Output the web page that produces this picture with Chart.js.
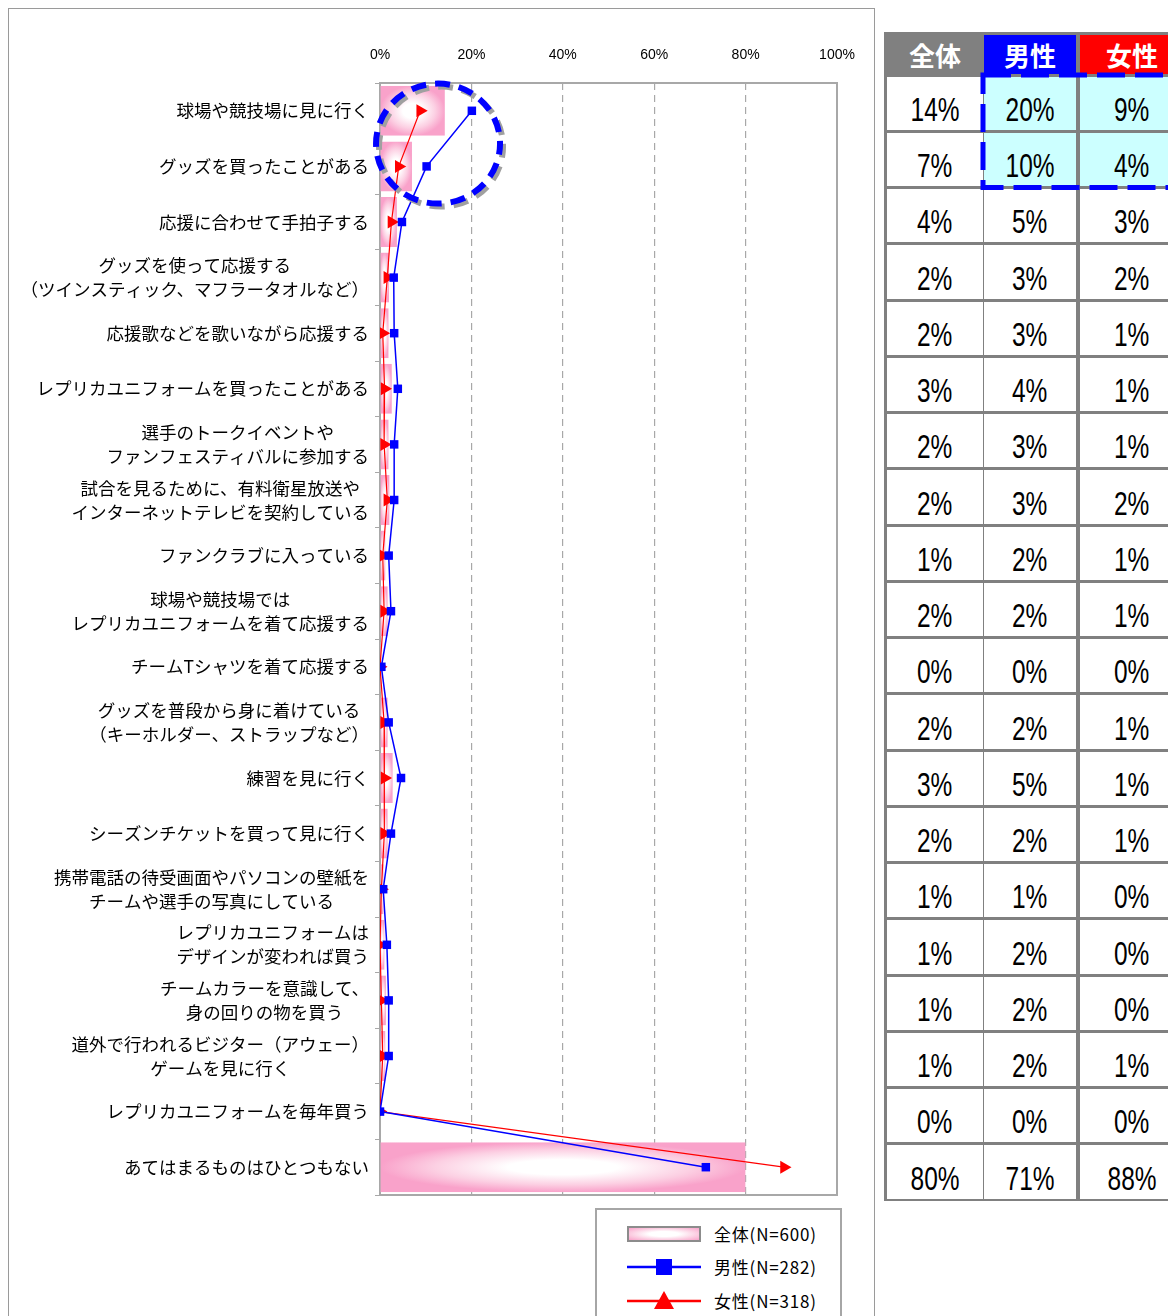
<!DOCTYPE html>
<html lang="ja">
<head>
<meta charset="utf-8">
<script src="https://cdn.jsdelivr.net/npm/chart.js@4.4.1/dist/chart.umd.min.js"></script>
<style>
  html, body { margin: 0; padding: 0; background: #fff; width: 1168px; height: 1316px; overflow: hidden; }
  #frame { position: absolute; left: 8px; top: 8px; width: 867px; height: 1330px; border: 1px solid #9a9a9a; box-sizing: border-box; }
  #chartWrap { position: absolute; left: 0; top: 0; width: 876px; height: 1316px; }
  #legend { position: absolute; left: 595px; top: 1208px; width: 247px; height: 130px; border: 2px solid #a6a6a6; box-sizing: border-box; background: #fff; font-family: "Noto Sans CJK JP", sans-serif; font-size: 17px; letter-spacing: 0.8px; color: #000; }
  .litem { position: absolute; left: 0; width: 240px; height: 30px; }
  .lsym { position: absolute; left: 29px; top: 0; width: 76px; height: 30px; }
  .ltext { position: absolute; left: 117px; top: 0; line-height: 30px; white-space: nowrap; }
  #table { position: absolute; left: 884px; top: 32px; width: 300px; height: 1169px; background: #808080; }
  .cell { position: absolute; display: flex; align-items: center; justify-content: center; box-sizing: border-box; font-family: "Liberation Sans", Arial, sans-serif; font-size: 34px; color: #000; background: #fff; }
  .cell span { display: inline-block; transform: scaleX(0.72); transform-origin: center; }
  .hcell { position: absolute; display: flex; align-items: center; justify-content: center; font-family: "Noto Sans CJK JP", sans-serif; font-weight: bold; font-size: 26px; color: #fff; }
  #hl { position: absolute; left: 0; top: 0; width: 1168px; height: 1316px; pointer-events: none; }
</style>
</head>
<body>
<div id="frame"></div>
<div id="chartWrap"><canvas id="c" width="876" height="1316"></canvas></div>
<div id="legend"></div>
<div id="table"></div>
<svg id="hl" width="1168" height="1316"></svg>
<script>
// ---- data ----
const categories = [
  "球場や競技場に見に行く",
  "グッズを買ったことがある",
  "応援に合わせて手拍子する",
  ["グッズを使って応援する", "（ツインスティック、マフラータオルなど）"],
  "応援歌などを歌いながら応援する",
  "レプリカユニフォームを買ったことがある",
  ["選手のトークイベントや", "ファンフェスティバルに参加する"],
  ["試合を見るために、有料衛星放送や", "インターネットテレビを契約している"],
  "ファンクラブに入っている",
  ["球場や競技場では", "レプリカユニフォームを着て応援する"],
  "チームTシャツを着て応援する",
  ["グッズを普段から身に着けている", "（キーホルダー、ストラップなど）"],
  "練習を見に行く",
  "シーズンチケットを買って見に行く",
  ["携帯電話の待受画面やパソコンの壁紙を", "チームや選手の写真にしている"],
  ["レプリカユニフォームは", "デザインが変われば買う"],
  ["チームカラーを意識して、", "身の回りの物を買う"],
  ["道外で行われるビジター（アウェー）", "ゲームを見に行く"],
  "レプリカユニフォームを毎年買う",
  "あてはまるものはひとつもない"
];
const overallValues = [14.2, 7.0, 3.7, 2.0, 1.9, 2.6, 1.9, 2.1, 1.2, 1.7, 0.3, 1.7, 2.8, 1.7, 0.8, 1.0, 1.3, 1.2, 0.0, 80.0];
const maleValues    = [20.1, 10.2, 4.8, 3.0, 3.1, 3.9, 3.1, 3.1, 1.9, 2.4, 0.3, 1.9, 4.6, 2.4, 0.7, 1.5, 1.9, 1.9, 0.0, 71.3];
const femaleValues  = [8.8, 4.1, 2.5, 1.6, 0.6, 1.0, 0.9, 1.6, 0.6, 0.9, 0.0, 0.9, 1.0, 0.9, 0.3, 0.0, 0.3, 0.6, 0.0, 88.4];
const seriesLabels = ["全体(N=600)", "男性(N=282)", "女性(N=318)"];
const xTicks = [0, 20, 40, 60, 80, 100];
const tableHeaders = ["全体", "男性", "女性"];
const tableOverall = [14, 7, 4, 2, 2, 3, 2, 2, 1, 2, 0, 2, 3, 2, 1, 1, 1, 1, 0, 80];
const tableMale    = [20, 10, 5, 3, 3, 4, 3, 3, 2, 2, 0, 2, 5, 2, 1, 2, 2, 2, 0, 71];
const tableFemale  = [9, 4, 3, 2, 1, 1, 1, 2, 1, 1, 0, 1, 1, 1, 0, 0, 0, 1, 0, 88];
const highlightRows = [0, 1];

// ---- styling ----
const PINK = '#f9a2ca';
const GRID = '#a8a8a8';

function paintGradientRect(g, x, y, w, h) {
  if (w <= 0 || h <= 0) return;
  g.save();
  g.beginPath();
  g.rect(x, y, w, h);
  g.clip();
  g.translate(x + w / 2, y + h / 2);
  g.scale(w / 2, h / 2);
  const rg = g.createRadialGradient(0, 0, 0, 0, 0, 1);
  rg.addColorStop(0, '#ffffff');
  rg.addColorStop(0.3, '#ffffff');
  rg.addColorStop(0.7, '#fcd0e3');
  rg.addColorStop(1, PINK);
  g.fillStyle = rg;
  g.fillRect(-1.5, -1.5, 3, 3);
  g.restore();
}

let patternCache = null;
function barPattern(ctx) {
  const chart = ctx.chart;
  const xs = chart.scales.x, ys = chart.scales.y;
  if (!xs || !ys || !chart.chartArea) return PINK;
  const key = chart.width + 'x' + chart.height + ':' + chart.chartArea.left + ',' + chart.chartArea.top + ',' + chart.chartArea.right + ',' + chart.chartArea.bottom;
  if (patternCache && patternCache.key === key) return patternCache.pattern;
  const off = document.createElement('canvas');
  off.width = chart.width; off.height = chart.height;
  const g = off.getContext('2d');
  const ds = chart.data.datasets.find(d => d.type === 'bar');
  const step = Math.abs(ys.getPixelForValue(1) - ys.getPixelForValue(0));
  const thick = step * ds.barPercentage * ds.categoryPercentage;
  ds.data.forEach((v, i) => {
    const x0 = xs.getPixelForValue(0), x1 = xs.getPixelForValue(v);
    const yc = ys.getPixelForValue(i);
    paintGradientRect(g, Math.min(x0, x1), yc - thick / 2, Math.abs(x1 - x0), thick);
  });
  const pattern = chart.ctx.createPattern(off, 'no-repeat');
  patternCache = { key, pattern };
  return pattern;
}

// y labels drawn with centered lines, right edge fixed
const yLabelPlugin = {
  id: 'yLabels',
  afterDraw(chart) {
    const ys = chart.scales.y;
    const c = chart.ctx;
    c.save();
    c.font = '17.5px "Noto Sans CJK JP", sans-serif';
    c.fillStyle = '#000';
    c.textAlign = 'center';
    c.textBaseline = 'middle';
    const rightEdge = 369;
    const lh = 24;
    chart.data.labels.forEach((lab, i) => {
      const lines = Array.isArray(lab) ? lab : [lab];
      const maxW = Math.max(...lines.map(l => c.measureText(l).width));
      const cx = rightEdge - maxW / 2;
      const yc = ys.getPixelForValue(i);
      lines.forEach((l, k) => {
        c.fillText(l, cx, yc - (lines.length - 1) * lh / 2 + k * lh);
      });
    });
    c.restore();
  }
};

const frameAndEllipsePlugin = {
  id: 'frameEllipse',
  beforeDatasetsDraw(chart) {
    const a = chart.chartArea;
    const c = chart.ctx;
    c.save();
    c.strokeStyle = GRID;
    c.lineWidth = 2;
    c.strokeRect(a.left, a.top, a.right - a.left, a.bottom - a.top);
    c.restore();
  },
  afterDatasetsDraw(chart) {
    const xs = chart.scales.x, ys = chart.scales.y;
    const c = chart.ctx;
    const cx = xs.getPixelForValue(12.7);
    const cy = (ys.getPixelForValue(0) + ys.getPixelForValue(1)) / 2 + 5;
    const draw = (dx, dy, color) => {
      c.save();
      c.beginPath();
      c.ellipse(cx + dx, cy + dy, 62, 60, 0, 0, Math.PI * 2);
      c.setLineDash([15, 9]);
      c.lineDashOffset = 4;
      c.lineWidth = 6;
      c.strokeStyle = color;
      c.stroke();
      c.restore();
    };
    draw(3, 3, '#a0a0a0');
    draw(0, 0, '#0000ff');
  }
};

new Chart(document.getElementById('c'), {
  type: 'bar',
  data: {
    labels: categories,
    datasets: [
      {
        type: 'line', label: seriesLabels[1], data: maleValues,
        borderColor: '#0000ff', backgroundColor: '#0000ff', borderWidth: 1.5,
        pointStyle: 'rect', pointRadius: 6, pointBorderWidth: 0, tension: 0, order: 1
      },
      {
        type: 'line', label: seriesLabels[2], data: femaleValues,
        borderColor: '#ff0000', backgroundColor: '#ff0000', borderWidth: 1.2,
        pointStyle: 'triangle', rotation: 90, pointRadius: 7.5, pointBorderWidth: 0, tension: 0, order: 2
      },
      {
        type: 'bar', label: seriesLabels[0], data: overallValues,
        backgroundColor: barPattern, borderWidth: 0,
        barPercentage: 0.9, categoryPercentage: 1.0, order: 3
      }
    ]
  },
  options: {
    indexAxis: 'y',
    responsive: false,
    animation: false,
    events: [],
    layout: { padding: { left: 10, right: 39, top: 10, bottom: 121 } },
    plugins: { legend: { display: false }, tooltip: { enabled: false } },
    scales: {
      x: {
        position: 'top', min: 0, max: 100,
        afterBuildTicks(scale) { scale.ticks = xTicks.map(v => ({ value: v })); },
        afterFit(scale) { scale.height = 73; },
        ticks: {
          callback: v => v + '%',
          font: { family: '"Liberation Sans", Arial, sans-serif', size: 14 },
          color: '#000', padding: 19, maxRotation: 0
        },
        grid: { color: GRID, lineWidth: 1.2, drawTicks: false },
        border: { display: false, dash: [7, 5] }
      },
      y: {
        type: 'category', offset: true,
        afterFit(scale) { scale.width = 370; },
        ticks: { display: false },
        grid: { drawOnChartArea: false, drawTicks: true, tickLength: 5, color: GRID, offset: true },
        border: { display: true, color: GRID, width: 2 }
      }
    }
  },
  plugins: [frameAndEllipsePlugin, yLabelPlugin]
});

// ---- legend (HTML) ----
(function () {
  const lg = document.getElementById('legend');
  const tops = [9, 42, 76];
  const syms = [
    '<div style="position:absolute;left:1px;top:7px;width:74px;height:16px;border:2px solid #8c8c8c;box-sizing:border-box;background:radial-gradient(ellipse at center,#ffffff 0%,#ffffff 30%,#fcd0e3 65%,' + PINK + ' 100%);"></div>',
    '<svg width="76" height="30"><line x1="1" y1="15" x2="75" y2="15" stroke="#0000ff" stroke-width="2.5"/><rect x="30" y="7" width="16" height="16" fill="#0000ff"/></svg>',
    '<svg width="76" height="30"><line x1="1" y1="15" x2="75" y2="15" stroke="#ff0000" stroke-width="2.5"/><polygon points="38,5 48,23 28,23" fill="#ff0000"/></svg>'
  ];
  seriesLabels.forEach((t, i) => {
    const d = document.createElement('div');
    d.className = 'litem';
    d.style.top = tops[i] + 'px';
    d.innerHTML = '<div class="lsym">' + syms[i] + '</div><div class="ltext">' + t + '</div>';
    lg.appendChild(d);
  });
})();

// ---- table (HTML) ----
(function () {
  const tb = document.getElementById('table');
  const cols = [[3, 96], [100, 92], [196, 104]];
  const headBg = ['#808080', '#0000ff', '#ff0000'];
  tableHeaders.forEach((h, j) => {
    const d = document.createElement('div');
    d.className = 'hcell';
    d.style.left = cols[j][0] + 'px';
    d.style.width = cols[j][1] + 'px';
    d.style.top = '3px';
    d.style.height = '39px';
    d.style.background = headBg[j];
    d.textContent = h;
    tb.appendChild(d);
  });
  const rowH = 56.25;
  const cols3 = [tableOverall, tableMale, tableFemale];
  for (let i = 0; i < tableOverall.length; i++) {
    const top = Math.round(43 + i * rowH + 1.5);
    cols3.forEach((arr, j) => {
      const d = document.createElement('div');
      d.className = 'cell';
      d.style.left = cols[j][0] + 'px';
      d.style.width = cols[j][1] + 'px';
      d.style.top = top + 'px';
      d.style.height = (Math.round(43 + (i + 1) * rowH - 1.5) - top) + 'px';
      d.style.paddingTop = '12px';
      if (j > 0 && highlightRows.includes(i)) d.style.background = '#ccffff';
      const s = document.createElement('span');
      s.textContent = arr[i] + '%';
      d.appendChild(s);
      tb.appendChild(d);
    });
  }
  // dashed highlight rectangle around male/female of highlighted rows
  const svg = document.getElementById('hl');
  const x = 884 + 99, y = 32 + 43;
  const h = rowH * highlightRows.length;
  svg.innerHTML = '<rect x="' + x + '" y="' + y + '" width="220" height="' + h + '" fill="none" stroke="#0000ff" stroke-width="5" stroke-dasharray="28 10"/>';
})();
</script>
</body>
</html>
